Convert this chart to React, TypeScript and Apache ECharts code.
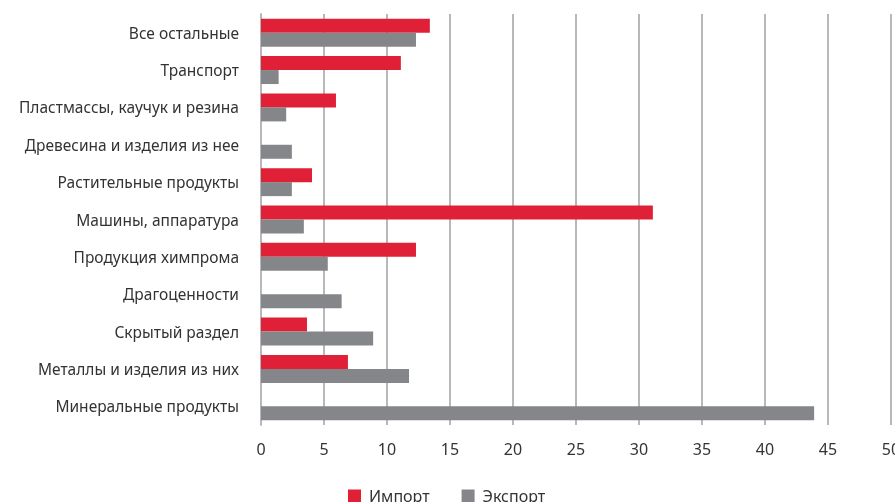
import React, { useEffect, useRef } from "react";
import * as echarts from "echarts";

const categories = [
  "Минеральные продукты",
  "Металлы и изделия из них",
  "Скрытый раздел",
  "Драгоценности",
  "Продукция химпрома",
  "Машины, аппаратура",
  "Растительные продукты",
  "Древесина и изделия из нее",
  "Пластмассы, каучук и резина",
  "Транспорт",
  "Все остальные",
];
const importValues = [null, 6.9, 3.65, null, 12.3, 31.1, 4.05, null, 5.95, 11.1, 13.4];
const exportValues = [43.9, 11.75, 8.9, 6.4, 5.3, 3.4, 2.45, 2.45, 2.0, 1.4, 12.3];
const seriesNames = ["Импорт", "Экспорт"];
const colors = ["#e02036", "#858689"];

export default function App() {
  const ref = useRef<HTMLDivElement>(null);
  useEffect(() => {
    if (!ref.current) return;
    const chart = echarts.init(ref.current, null, { renderer: "svg" });
    const font = "Noto Sans";
    chart.setOption({
      animation: false,
      textStyle: { fontFamily: font },
      legend: {
        data: seriesNames,
        top: 483,
        left: 343,
        itemWidth: 13,
        itemHeight: 13,
        itemGap: 32,
        icon: "rect",
        textStyle: { fontSize: 16, color: "#333", fontFamily: font, padding: [0, 0, 0, 3] },
      },
      grid: {
        left: 261,
        right: 4,
        top: 14,
        height: 411,
        containLabel: false,
        outerBoundsMode: "none",
      },
      xAxis: {
        type: "value",
        min: 0,
        max: 50,
        interval: 5,
        axisLine: { show: false },
        axisTick: { show: false },
        axisLabel: { fontSize: 16, color: "#333", margin: 16, fontFamily: font },
        splitLine: { lineStyle: { color: "#b8b8bc", width: 2 } },
      },
      yAxis: {
        type: "category",
        data: categories,
        axisLine: { show: true, lineStyle: { color: "#b8b8bc", width: 2 } },
        axisTick: { show: false },
        axisLabel: { fontSize: 15.5, color: "#333", margin: 22, fontFamily: font },
      },
      series: [
        {
          name: seriesNames[0],
          type: "bar",
          data: importValues,
          barWidth: 14,
          barGap: "0%",
          itemStyle: { color: colors[0] },
        },
        {
          name: seriesNames[1],
          type: "bar",
          data: exportValues,
          barWidth: 14,
          barGap: "0%",
          itemStyle: { color: colors[1] },
        },
      ],
    });
    return () => chart.dispose();
  }, []);
  return (
    <div
      ref={ref}
      style={{ position: "fixed", left: 0, top: 0, width: 895, height: 502 }}
    />
  );
}
